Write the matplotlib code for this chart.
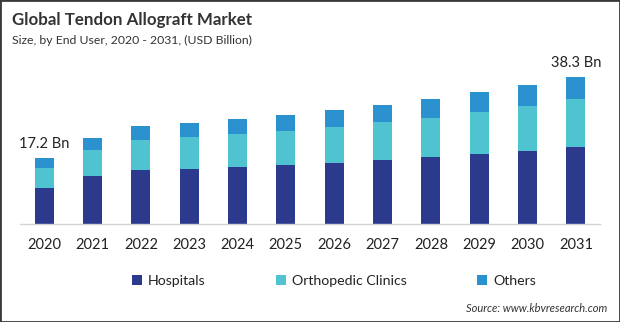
import matplotlib.pyplot as plt
from matplotlib.patches import Rectangle
import numpy as np

plt.rcParams['font.family'] = ['Lato', 'DejaVu Sans']

years = ['2020', '2021', '2022', '2023', '2024', '2025',
         '2026', '2027', '2028', '2029', '2030', '2031']
hospitals = [9.5, 12.5, 14.1, 14.3, 14.8, 15.4, 15.9, 16.7, 17.4, 18.2, 19.1, 20.0]
orthopedic_clinics = [5.2, 6.8, 7.8, 8.3, 8.6, 8.9, 9.4, 9.9, 10.2, 10.9, 11.6, 12.6]
others = [2.5, 3.1, 3.6, 3.7, 3.9, 4.2, 4.4, 4.4, 4.9, 5.2, 5.5, 5.7]
end_labels = {0: '17.2 Bn', 11: '38.3 Bn'}

colors = ['#2c3a8e', '#4fc3cf', '#2b91cf']

W, H = 620, 322
fig = plt.figure(figsize=(W / 100, H / 100), dpi=100)

# axes placed in pixel terms: baseline at y=224, x from 20 to 600
ax = fig.add_axes([20 / W, (H - 224) / H, 580 / W, 172.8 / H])

x = np.arange(len(years))
width = 0.39
h = np.array(hospitals)
o = np.array(orthopedic_clinics)
s = np.array(others)

ax.bar(x, h, width, color=colors[0], label='Hospitals')
ax.bar(x, o, width, bottom=h, color=colors[1], label='Orthopedic Clinics')
ax.bar(x, s, width, bottom=h + o, color=colors[2], label='Others')

totals = h + o + s
for i, txt in end_labels.items():
    ax.annotate(txt, xy=(x[i], totals[i]), xytext=(0, 5),
                textcoords='offset points', ha='center', va='bottom',
                fontsize=10.5, color='#222222')

ax.set_xlim(-0.5, len(years) - 0.5)
ax.set_ylim(0, 45)
ax.set_xticks(x)
ax.set_xticklabels(years, fontsize=10.5, color='#222222')
ax.tick_params(axis='x', length=0, pad=10)
ax.set_yticks([])
for side in ['top', 'right', 'left']:
    ax.spines[side].set_visible(False)
ax.spines['bottom'].set_color('#d4d4d4')
ax.spines['bottom'].set_linewidth(1)

fig.text(12 / W, 1 - 20 / H, 'Global Tendon Allograft Market', fontsize=12.2,
         fontweight='bold', color='#333333', va='center', ha='left')
fig.text(12 / W, 1 - 40 / H, 'Size, by End User, 2020 - 2031, (USD Billion)',
         fontsize=8.8, color='#333333', va='center', ha='left')

leg = fig.legend(loc='center', bbox_to_anchor=(334 / W, 1 - 281 / H), ncol=3,
                 frameon=False, fontsize=10.2, handlelength=0.7, handleheight=0.7,
                 handletextpad=0.4, columnspacing=5.0)
for t in leg.get_texts():
    t.set_color('#222222')

fig.text(607 / W, 1 - 309 / H, 'Source: www.kbvresearch.com', fontsize=8,
         style='italic', color='#333333', ha='right', va='center')

fig.patches.append(Rectangle((0, 0), 1, 1, transform=fig.transFigure,
                             fill=False, edgecolor='#3a3a3a', linewidth=2))

fig.savefig('out.png', dpi=100)
